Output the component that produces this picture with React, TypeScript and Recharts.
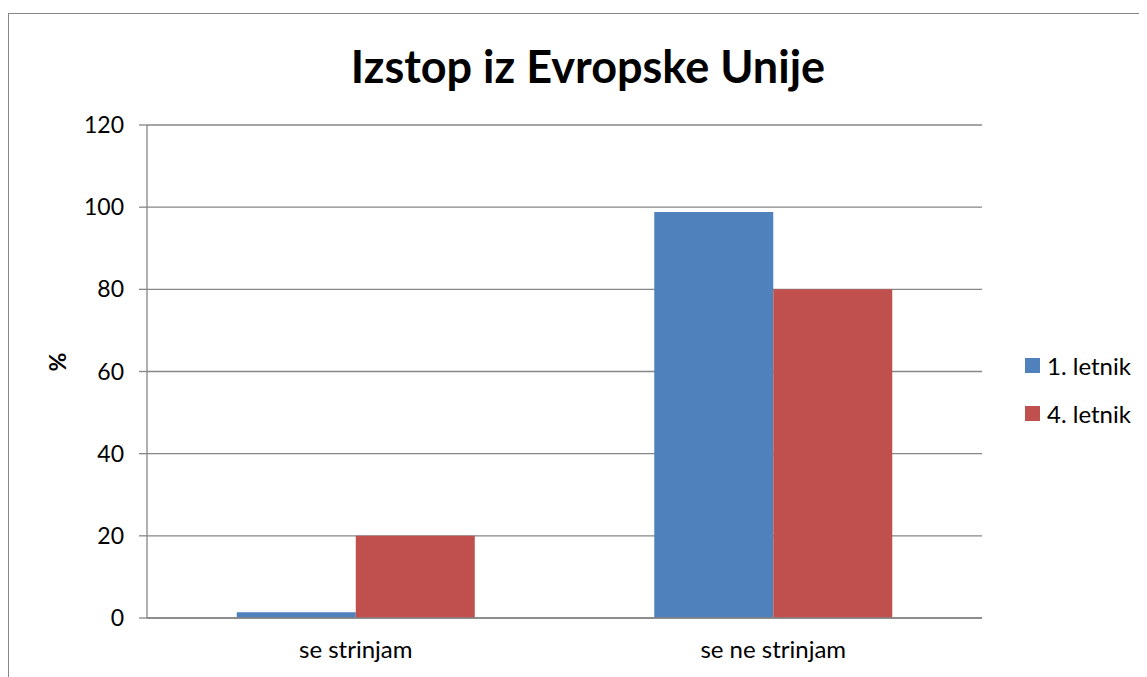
import { Bar, BarChart, CartesianGrid, Legend, XAxis, YAxis } from "recharts";

const CATEGORIES = ["se strinjam", "se ne strinjam"];
const FIRST_YEAR = [1.4, 98.8];
const FOURTH_YEAR = [20, 80];
const Y_TICKS = [0, 20, 40, 60, 80, 100, 120];
const SERIES = [
  { key: "first", name: "1. letnik", color: "#4F81BD" },
  { key: "fourth", name: "4. letnik", color: "#C0504D" }
];

const data = CATEGORIES.map((name, i) => ({
  name,
  first: FIRST_YEAR[i],
  fourth: FOURTH_YEAR[i]
}));

const FONT = "Lato, 'Open Sans', sans-serif";
const GRID = "#868686";

function LegendBox() {
  return (
    <div style={{ fontFamily: FONT, fontSize: 24, color: "#000" }}>
      {SERIES.map((s) => (
        <div
          key={s.key}
          style={{ display: "flex", alignItems: "center", height: 48 }}
        >
          <span
            style={{
              width: 15,
              height: 15,
              background: s.color,
              display: "inline-block",
              marginRight: 7
            }}
          />
          <span>{s.name}</span>
        </div>
      ))}
    </div>
  );
}

export default function App() {
  return (
    <div style={{ position: "relative", width: 1139, height: 669 }}>
      <div
        style={{
          position: "absolute",
          left: 0,
          top: 5,
          width: 1139,
          height: 664,
          borderLeft: `1.5px solid ${GRID}`,
          borderTop: `1.5px solid ${GRID}`,
          boxSizing: "border-box"
        }}
      />
      <div
        style={{
          position: "absolute",
          left: 0,
          top: 31,
          width: 1160,
          textAlign: "center",
          fontFamily: FONT,
          fontWeight: 700,
          fontSize: 45,
          color: "#000",
          whiteSpace: "nowrap"
        }}
      >
        Izstop iz Evropske Unije
      </div>
      <BarChart
        width={1139}
        height={669}
        data={data}
        margin={{ top: 117, right: 165, bottom: 29, left: 0 }}
        barCategoryGap="21.5%"
        barGap={0}
        style={{ position: "absolute", left: 0, top: 0 }}
      >
        <CartesianGrid vertical={false} stroke={GRID} strokeWidth={1.3} />
        <XAxis
          dataKey="name"
          tickLine={false}
          axisLine={{ stroke: GRID, strokeWidth: 1.3 }}
          tick={{ fill: "#000", fontSize: 24, fontFamily: FONT }}
          tickMargin={17}
        />
        <YAxis
          width={139}
          domain={[0, 120]}
          ticks={Y_TICKS}
          interval={0}
          tickSize={8}
          tickMargin={15}
          tickLine={{ stroke: GRID, strokeWidth: 1.3 }}
          axisLine={{ stroke: GRID, strokeWidth: 1.3 }}
          tick={{ fill: "#000", fontSize: 23, fontFamily: FONT }}
          label={{
            value: "%",
            angle: -90,
            position: "insideLeft",
            offset: 50,
            style: { fontWeight: 700, fontSize: 23, fontFamily: FONT, fill: "#000" }
          }}
        />
        <Legend
          layout="vertical"
          align="center"
          verticalAlign="middle"
          wrapperStyle={{ left: 1017, top: 333, width: 130 }}
          content={() => <LegendBox />}
        />
        {SERIES.map((s) => (
          <Bar
            key={s.key}
            dataKey={s.key}
            name={s.name}
            fill={s.color}
            isAnimationActive={false}
          />
        ))}
      </BarChart>
    </div>
  );
}
